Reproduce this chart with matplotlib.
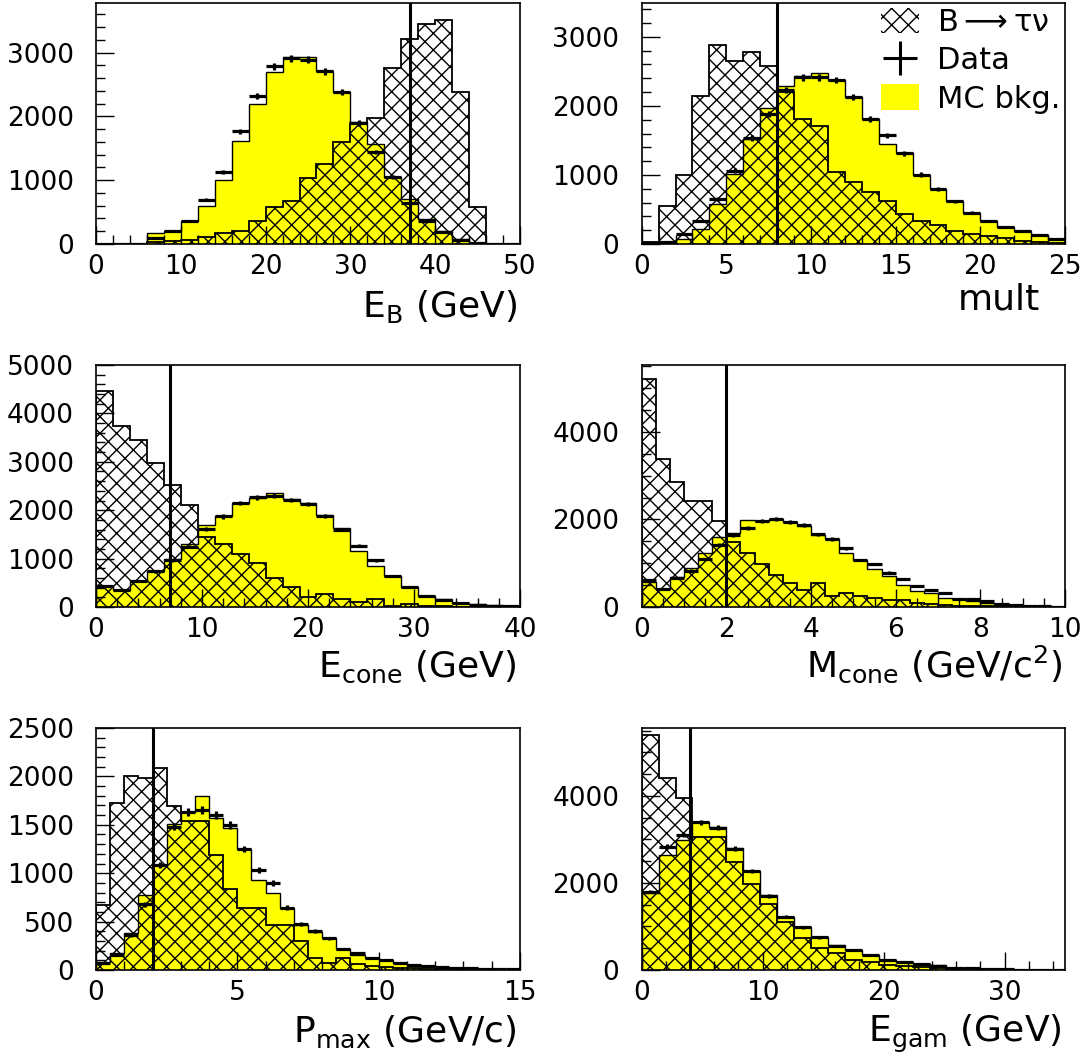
import numpy as np
import matplotlib
matplotlib.use('Agg')
import matplotlib.pyplot as plt
from matplotlib.patches import Patch
from matplotlib.lines import Line2D
from matplotlib.ticker import MultipleLocator

plt.rcParams['font.family'] = ['DejaVu Sans']
plt.rcParams['mathtext.default'] = 'regular'
plt.rcParams['hatch.linewidth'] = 1.0

# ---------------- data ----------------
# Panel 1: E_B (GeV), 25 bins 0-50
eb_mc = [0, 0, 0, 170, 205, 363, 600, 1006, 1622, 2190, 2690, 2933, 2930, 2717, 2380,
         1916, 1575, 1048, 705, 390, 205, 74, 0, 0, 0]
eb_data = [0, 0, 0, 100, 205, 363, 695, 1127, 1769, 2327, 2785, 2912, 2890, 2706, 2380,
           1900, 1443, 1048, 645, 360, 190, 60, 10, 0, 0]
eb_sig = [0, 0, 0, 30, 40, 58, 110, 168, 205, 353, 574, 669, 1035, 1259, 1601,
          1900, 1970, 2760, 3218, 3444, 3512, 2390, 574, 0, 0]

# Panel 2: mult, 25 bins 0-25
mult_mc = [19, 30, 68, 213, 577, 1014, 1523, 1975, 2285, 2431, 2479, 2373, 2130, 1815,
           1451, 1315, 1004, 796, 616, 456, 335, 247, 189, 131, 68]
mult_data = [20, 30, 141, 335, 650, 1063, 1538, 1878, 2227, 2416, 2416, 2373, 2130, 1815,
             1572, 1315, 1004, 796, 616, 456, 335, 247, 189, 131, 68]
mult_sig = [30, 553, 1004, 2144, 2882, 2649, 2785, 2576, 2200, 1815, 1703, 1040, 893, 747,
            626, 432, 335, 277, 189, 141, 116, 80, 50, 30, 15]

# Panel 3: E_cone (GeV), 25 bins 0-40
ec_mc = [434, 351, 544, 751, 985, 1302, 1694, 1880, 2142, 2245, 2362, 2225, 2155, 1901,
         1625, 1164, 847, 640, 420, 227, 158, 76, 59, 35, 20]
ec_data = [430, 345, 530, 740, 970, 1250, 1605, 1870, 2150, 2265, 2300, 2210, 2130, 1880,
           1600, 1270, 970, 640, 420, 227, 150, 76, 45, 25, 15]
ec_sig = [4469, 3740, 3450, 2969, 2521, 2107, 1450, 1300, 1090, 900, 600, 420, 200, 269,
          158, 110, 158, 20, 55, 30, 20, 10, 5, 3, 2]

# Panel 4: M_cone (GeV/c^2), 30 bins 0-10
mc_mc = [579, 404, 693, 884, 1242, 1608, 1699, 1989, 1966, 2004, 1935, 1859, 1646, 1554,
         1227, 1074, 861, 709, 503, 373, 312, 198, 175, 145, 99, 69, 46, 30, 23, 8]
mc_data = [617, 404, 655, 830, 1097, 1417, 1646, 1798, 1966, 2004, 1935, 1874, 1661, 1554,
           1341, 1074, 983, 785, 632, 480, 389, 312, 175, 175, 145, 69, 46, 30, 23, 8]
mc_sig = [5204, 3376, 2865, 2430, 2430, 1966, 1490, 1240, 980, 730, 540, 390, 553, 240,
          326, 250, 200, 150, 150, 80, 60, 40, 30, 20, 15, 10, 5, 5, 3, 0]

# Panel 5: P_max (GeV/c), 30 bins 0-15
pm_mc = [79, 172, 379, 775, 1085, 1505, 1629, 1801, 1574, 1463, 1250, 930, 792, 637, 465,
         389, 327, 217, 155, 120, 103, 69, 52, 42, 34, 24, 17, 14, 10, 7]
pm_data = [70, 160, 360, 678, 1085, 1481, 1629, 1653, 1601, 1498, 1250, 1033, 895, 644, 472,
           403, 327, 217, 172, 125, 103, 72, 55, 42, 34, 24, 17, 14, 10, 7]
pm_sig = [671, 1722, 2004, 1980, 2090, 1690, 1543, 1543, 1188, 837, 644, 644, 465, 465, 300,
          127, 69, 120, 60, 40, 30, 25, 20, 15, 10, 8, 5, 3, 2, 1]

# Panel 6: E_gam (GeV), 25 bins 0-35
eg_mc = [1762, 2644, 2989, 3410, 3295, 2812, 2284, 1724, 1226, 981, 766, 575, 460, 345,
         230, 176, 130, 115, 54, 38, 23, 15, 10, 8, 5]
eg_data = [1801, 2835, 3103, 3395, 3272, 2790, 2284, 1700, 1226, 981, 750, 560, 470, 345,
           230, 176, 130, 100, 54, 38, 23, 15, 10, 8, 5]
eg_sig = [5402, 4421, 3962, 3065, 3065, 2490, 1969, 1510, 1111, 728, 500, 400, 230, 176,
          115, 100, 60, 40, 30, 20, 15, 10, 5, 3, 2]

# ---------------- layout ----------------
W, H = 1088, 1053
fig = plt.figure(figsize=(W / 100, H / 100), dpi=100)


def add_ax(l, r, t, b):
    return fig.add_axes([l / W, 1 - b / H, (r - l) / W, (b - t) / H])


panels = [
    # (box, xmax, data, ylim, xmaj, xmin, ymaj, ymin, cut, label, label_pos)
    ((96, 520, 3, 244), 50, (eb_mc, eb_sig, eb_data), 3780, 10, 2, 1000, 200, 37,
     r'E$_{B}$ (GeV)', (517, 317)),
    ((641.7, 1065, 3, 244), 25, (mult_mc, mult_sig, mult_data), 3490, 5, 1, 1000, 200, 8,
     'mult', (1040, 310)),
    ((96, 520, 365, 607), 40, (ec_mc, ec_sig, ec_data), 5000, 10, 2, 1000, 200, 7,
     r'E$_{cone}$ (GeV)', (517, 677)),
    ((641.7, 1065, 365, 607), 10, (mc_mc, mc_sig, mc_data), 5530, 2, 0.5, 2000, 500, 2,
     r'M$_{cone}$ (GeV/c$^{2}$)', (1062, 677)),
    ((96, 520, 728, 970), 15, (pm_mc, pm_sig, pm_data), 2500, 5, 1, 500, 100, 2,
     r'P$_{max}$ (GeV/c)', (517, 1042)),
    ((641.7, 1065, 728, 970), 35, (eg_mc, eg_sig, eg_data), 5560, 10, 2, 2000, 500, 4,
     r'E$_{gam}$ (GeV)', (1062, 1042)),
]

axes = []
for box, xmax, (mcv, sigv, datv), ymax, xmaj, xmin_, ymaj, ymin_, cut, label, lpos in panels:
    ax = add_ax(*box)
    axes.append(ax)
    mcv = np.asarray(mcv, float)
    sigv = np.asarray(sigv, float)
    datv = np.asarray(datv, float)
    edges = np.linspace(0, xmax, len(mcv) + 1)
    centers = 0.5 * (edges[1:] + edges[:-1])
    ax.stairs(mcv, edges, fill=True, facecolor='#ffff00', edgecolor='none', zorder=1)
    ax.stairs(mcv, edges, color='black', lw=1.0, zorder=2)
    ax.stairs(sigv, edges, fill=True, facecolor='none', edgecolor='black', hatch='xx',
              lw=1.3, zorder=3)
    ax.errorbar(centers, datv, xerr=0.5 * np.diff(edges), yerr=np.sqrt(datv), fmt='none',
                ecolor='black', elinewidth=2.3, capsize=0, zorder=4)
    ax.axvline(cut, color='black', lw=2.2, zorder=5)
    ax.set_xlim(0, xmax)
    ax.set_ylim(0, ymax)
    ax.xaxis.set_major_locator(MultipleLocator(xmaj))
    ax.xaxis.set_minor_locator(MultipleLocator(xmin_))
    ax.yaxis.set_major_locator(MultipleLocator(ymaj))
    ax.yaxis.set_minor_locator(MultipleLocator(ymin_))
    ax.tick_params(which='both', direction='in', top=False, right=False, width=1.0,
                   labelsize=19)
    ax.tick_params(which='major', length=13)
    ax.tick_params(which='minor', length=6.5)
    ax.tick_params(axis='x', pad=7)
    ax.tick_params(axis='y', pad=16)
    for s in ax.spines.values():
        s.set_linewidth(1.2)
    fig.text(lpos[0] / W, 1 - lpos[1] / H, label, ha='right', va='baseline', fontsize=26)

# legend in panel 2
handles = [
    Patch(facecolor='white', edgecolor='black', hatch='xx', linewidth=0),
    Line2D([], [], color='black', marker='+', markersize=24, markeredgewidth=2.2,
           linestyle='none'),
    Patch(facecolor='#ffff00', edgecolor='none'),
]
labels = [r'B$\longrightarrow\tau\nu$', 'Data', 'MC bkg.']
axes[1].legend(handles, labels, loc='upper right', frameon=False, fontsize=22,
               handlelength=1.25, handleheight=0.9, handletextpad=0.6, labelspacing=0.3,
               borderaxespad=0.05, borderpad=0.1)

fig.savefig('out.png', dpi=100)
